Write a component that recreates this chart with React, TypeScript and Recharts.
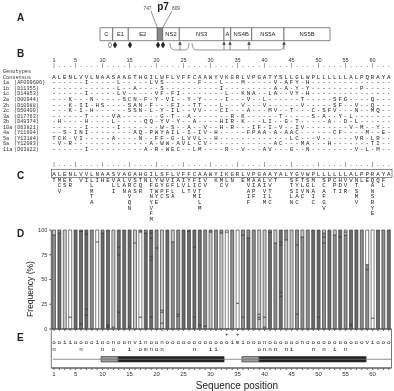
import React from 'react';
import {
  BarChart,
  Bar,
  XAxis,
  YAxis,
  Cell,
  LabelList,
  ComposedChart,
  Scatter,
  ReferenceArea,
  ReferenceLine,
} from 'recharts';

// ---- data ----
const positions = [
  1, 2, 3, 4, 5, 6, 7, 8, 9, 10, 11, 12, 13, 14, 15, 16, 17, 18, 19, 20, 21,
  22, 23, 24, 25, 26, 27, 28, 29, 30, 31, 32, 33, 34, 35, 36, 37, 38, 39, 40,
  41, 42, 43, 44, 45, 46, 47, 48, 49, 50, 51, 52, 53, 54, 55, 56, 57, 58, 59,
  60, 61, 62, 63,
];
const labelledTicks = [1, 5, 10, 15, 20, 25, 30, 35, 40, 45, 50, 55, 60];

// stacked frequency segments per position, bottom to top (shade + %)
const stacks = [
  'M95 L5', 'D97 M3', 'L100', 'W12 W88', 'D100', 'D5 D94 M1', 'D14 D6 D76 D4',
  'M100', 'W88 W12', 'D97 M3', 'D2 D2 D96', 'L2 L98', 'D17 D58 D8 D17', 'D100',
  'M2 D98', 'L87 L13', 'W12 W86 M2', 'D97 M3', 'D12 D58 D3 D19 D5 D3', 'M82 M18',
  'L6 L11 L2 L81', 'D100', 'M88 L12', 'M13 M2 M85', 'D100', 'D99 M1', 'D12 D71 D17',
  'D4 D96', 'M3 M97', 'L98 M2', 'M100', 'L97 M3', 'W98 W2', 'M100', 'W26 W74',
  'M12 M83 M5', 'D92 M8', 'M100', 'L10 L2 L3 L85', 'L2 L10 L88', 'D98 M2', 'M87 L13',
  'D33 D4 D48 D3 D12', 'L90 M10', 'L100', 'M15 M70 M15', 'M93 L7', 'M100', 'D100',
  'D12 D88', 'M87 M6 M4 L3', 'D100', 'M95 L5', 'D93 D7', 'M95 L3 L2', 'D3 D2 D95',
  'D100', 'M100', 'M60 M5 W35', 'W11 W89', 'D100', 'M100', 'D100',
];
const shades: Record<string, string> = { D: '#6b6b6b', M: '#8f8f8f', L: '#c9c9c9', W: '#ffffff' };

// panel A gene map (box widths as drawn)
const geneNames = ['C', 'E1', 'E2', 'p7', 'NS2', 'NS3', 'A', 'NS4B', 'NS5A', 'NS5B'];
const geneWidths = [12.7, 15.6, 29, 5.4, 16.6, 44.7, 6.7, 21, 32.3, 46];
const diamonds = [10, 15, 30, 58, 63];
const arrows = [80, 124, 130, 149, 184];

// panel B alignment
const consensusB = 'ALENLVVLNAASAAGTHGILWFLVFFCAAWYVKGRLVPGATYSLLGLWPLLLLLLALPQRAYA';
const genotypes = ['1a', '1b', '1c', '2a', '2b', '2c', '3a', '3b', '10a', '4a', '5a', '6a', '11a'];
const accessions = ['AF009606', 'D11355', 'D14853', 'D00944', 'D10988', 'D50409', 'D17763', 'D49374', 'D63821', 'Y11604', 'Y13184', 'Y12083', 'D63822'];
const variantsB = [
  '7I 13L 19L 20V 21S 28F 32L 36M 42V 44A 45F 46Y 48H',
  '13L 16A 21S 32I 42A 44A 46Y 48Y 58P',
  '7I 13L 14V 20V 21F 23F 24I 33L 36K 37N 38A 41L 42A 45V 46Y 48H',
  '4K 8N 14S 15C 16N 18F 20Y 22V 23I 26Y 28Y 33I 37V 40L 47T 53S 54F 55G 60Q',
  '4K 6I 7I 9H 10S 15S 16A 17N 19F 23F 24I 27T 28T 32L 36V 40V 47V 53S 54F 57V 60Q',
  '4K 6I 8H 15S 16S 17N 19L 21Y 23I 24L 27V 28V 32C 33I 37A 41M 42V 45T 49C 51S 52F 53V 57N 60M 61Q',
  '7T 12V 13A 21G 23T 26A 34R 36K 43T 49S 51A 54Y 56L',
  '2H 7H 12L 18Q 19Q 21Y 22V 24Y 27A 32H 33I 34R 36K 40L 41I 44G 46T 52A 55D 57L',
  '7I 13I 21W 23S 26A 29V 32H 34R 38I 39F 41I 43V 46I 47V 56V 58M 61Y',
  '3S 5I 6N 7I 16A 17Q 19P 20W 21Y 22A 23I 24L 26I 28I 29V 31H 37F 38P 39A 40A 42A 44A 45A 46C 53C 54F 59M 62E',
  '1T 2C 3K 5V 6I 12A 17N 20F 21F 23G 25L 26V 27V 28L 31H 45L 46C 50V 57V 58R 60L 61R',
  '2V 4R 19A 21W 22W 24A 25V 26L 28C 29V 42A 43C 47M 48A 52H 60T 61I',
  '7I 18A 20R 22W 23E 24C 27L 28M 33R 36V 40A 41V 45G 48N 57V 59L 61M',
];

// panel C variability (consensus + residues found at each column)
const consensusC = 'ALENLVVLNAASVAGAHGILSFLVFFCAAWYIKGRLVPGAAYALYGVWPLLLLLLALPPRAYA';
const columnsC = [
  '1 T', '2 MCV', '3 ES', '4 KR', '6 V', '7 I', '8 LLMTA', '9 I', '10 H', '11 E', '12 VLI',
  '13 AL', '14 LAN', '15 VRAVQN', '16 SCS', '17 TQR', '18 N', '19 LFTNYVFM', '20 YGWYE',
  '21 WYPC', '22 VGFS', '23 IFLA', '24 AL', '25 IVL', '26 YLT', '27 FIVM', '28 ICTILM',
  '29 VV', '31 K', '32 MC', '33 LV', '34 N', '36 E', '37 MVAIF', '38 AIPF', '39 AA',
  '40 LIVIM', '41 VVTLC', '42 T', '45 STSLN', '46 FYIAC', '47 TLVC', '48 SGN', '49 MLAIC',
  '51 SCAFGV', '52 P', '53 CPT', '54 HDI', '55 VVR', '56 V', '57 NTSMV', '58 L', '59 E',
  '60 QANSRYE', '61 Q', '62 FL',
];

// panel E annotation
const propsRow1 = 'ooiiooooioonoonvinoonooooooooooooimiooonoooooonooooooooooovioooo';
const propsRow2 = '1n 6n 10n 12o 15i 17o 18m 19n 20o 21n 27n 30i 31i 39o 40n 41n 42n 44n 45i 49n 51n 53i 55n';
const plusMarks = [33, 35];
const domains = [
  { from: 9.7, to: 12.9, kind: 'grey' },
  { from: 12.9, to: 32.5, kind: 'black' },
  { from: 35.8, to: 39, kind: 'grey' },
  { from: 39, to: 58.8, kind: 'black' },
];

// ---- helpers ----
const SANS = 'Liberation Sans, Arial, sans-serif';
const MONO = 'Liberation Mono, DejaVu Sans Mono, monospace';
const NB = '\u00a0';
const colX = (p: number) => 54 + (p - 1) * 5.4;
const xList = positions.map(colX).join(' ');

const freqData = stacks.map((s, i) => {
  const row: any = { pos: positions[i] };
  s.split(' ').forEach((tok, k) => {
    row['s' + k] = Number(tok.slice(1));
    row['c' + k] = tok[0];
  });
  return row;
});
const maxSeg = Math.max(...stacks.map((s) => s.split(' ').length));

const applyVariants = (spec: string) => {
  const chars = positions.map(() => '-');
  spec.split(' ').forEach((t) => {
    const p = parseInt(t, 10);
    chars[p - 1] = t.replace(/^\d+/, '');
  });
  return chars.join('');
};
const rowsB = variantsB.map(applyVariants);

const colMap: Record<number, string> = {};
columnsC.forEach((c) => {
  const [p, s] = c.split(' ');
  colMap[Number(p)] = s;
});
const depthC = Math.max(...columnsC.map((c) => c.split(' ')[1].length));
const rowsC = Array.from({ length: depthC }, (_, r) =>
  positions.map((p) => (colMap[p] && colMap[p][r]) || NB).join('')
);

const rulerTicks = positions.map((p) => (p === 1 || p % 5 === 0 ? '|' : '.')).join('');

const row1Pts = positions.map((p, i) => ({ x: p, y: 26, ch: propsRow1[i] }));
const row2Pts = propsRow2.split(' ').map((t) => ({ x: parseInt(t, 10), y: 19, ch: t.replace(/^\d+/, '') }));
const plusPts = plusMarks.map((p) => ({ x: p, y: 34, ch: '+' }));

const geneRow: any = { name: 'HCV' };
geneNames.forEach((g, i) => (geneRow[g] = geneWidths[i]));

const letterShape = (props: any) => (
  <text x={props.cx} y={props.cy} textAnchor="middle" dominantBaseline="central" fontSize={6}
    fontFamily={MONO} fill="#222" stroke="none">
    {props.payload.ch}
  </text>
);

const SeqRow = ({ y, text, size = 5.8 }: { y: number; text: string; size?: number }) => (
  <text x={xList} y={y} textAnchor="middle" fontSize={size} fontFamily={MONO} fill="#222">
    {text.replace(/ /g, NB)}
  </text>
);

const aX = (u: number) => 100 + u;
const layer: React.CSSProperties = { position: 'absolute', left: 0, top: 0, willChange: 'transform' };

export default function App() {
  return (
    <div style={{ position: 'absolute', left: 0, top: 0, width: 394, height: 391, background: '#fff' }}>
      {/* A: genome map */}
      <div style={layer}>
        <BarChart layout="vertical" width={394} height={60} data={[geneRow]}
          margin={{ top: 27.7, right: 64, bottom: 19, left: 100 }} barCategoryGap={0}>
          <XAxis type="number" domain={[0, 230]} hide />
          <YAxis type="category" dataKey="name" hide />
          {geneNames.map((g) => (
            <Bar key={g} dataKey={g} stackId="g" fill={g === 'p7' ? '#8a8a8a' : '#fff'}
              stroke="#555" strokeWidth={0.7} isAnimationActive={false}>
              <LabelList dataKey={g} content={(p: any) =>
                g === 'p7' ? null : (
                  <text x={p.x + p.width / 2} y={p.y + p.height / 2 + 2} textAnchor="middle"
                    fontSize={5.8} fontFamily={SANS} fill="#222">{g}</text>
                )} />
            </Bar>
          ))}
        </BarChart>
      </div>

      {/* D: frequency bars */}
      <div style={layer}>
        <BarChart width={394} height={340} data={freqData}
          margin={{ top: 230, right: 2.5, bottom: 5, left: 41.3 }} barCategoryGap="22%">
          <XAxis dataKey="pos" interval={0} tickFormatter={() => ''} tickSize={2} height={6}
            axisLine={{ stroke: '#555' }} tickLine={{ stroke: '#666' }} />
          <YAxis domain={[0, 100]} ticks={[0, 25, 50, 75, 100]} interval={0} width={10} tickSize={2}
            tick={{ fontSize: 5.5, fill: '#333', fontFamily: SANS }} axisLine={{ stroke: '#555' }}
            tickLine={{ stroke: '#555' }} />
          {Array.from({ length: maxSeg }, (_, k) => (
            <Bar key={k} dataKey={'s' + k} stackId="f" stroke="#2a2a2a" strokeWidth={0.6} isAnimationActive={false}>
              {freqData.map((d, i) => (
                <Cell key={i} fill={shades[d['c' + k]] || '#fff'} />
              ))}
            </Bar>
          ))}
        </BarChart>
      </div>

      {/* E: physico-chemical annotation + domains */}
      <div style={layer}>
        <ComposedChart width={394} height={391} margin={{ top: 329, right: 2.5, bottom: 11, left: 51.3 }}>
          <XAxis type="number" dataKey="x" domain={[0.5, 63.5]} ticks={positions} interval={0}
            tickFormatter={(v: number) => (labelledTicks.includes(v) ? String(v) : '')}
            tickSize={2} height={12} tick={{ fontSize: 6, fill: '#333', fontFamily: SANS }}
            axisLine={{ stroke: '#555' }} tickLine={{ stroke: '#666' }} allowDataOverflow />
          <YAxis type="number" dataKey="y" domain={[0, 39]} hide />
          <ReferenceArea x1={0.5} x2={63.5} y1={0} y2={39} fill="none" stroke="#555" strokeWidth={0.8} ifOverflow="visible" />
          <ReferenceLine segment={[{ x: 0.8, y: 8.75 }, { x: 63.5, y: 8.75 }]} stroke="#777" strokeWidth={0.8} />
          {domains.map((d, i) => (
            <ReferenceArea key={i} x1={d.from} x2={d.to} y1={6} y2={11.5}
              fill={d.kind === 'grey' ? '#9a9a9a' : '#222'} fillOpacity={1} stroke="#333" strokeWidth={0.6} />
          ))}
          <Scatter data={row1Pts} fill="#222" shape={letterShape} isAnimationActive={false} />
          <Scatter data={row2Pts} fill="#222" shape={letterShape} isAnimationActive={false} />
          <Scatter data={plusPts} fill="#222" shape={letterShape} isAnimationActive={false} />
        </ComposedChart>
      </div>

      {/* text panels */}
      <svg width={394} height={391} style={{ ...layer, pointerEvents: 'none' }}>
        <g fontFamily={SANS} fontWeight="bold" fontSize={10} fill="#222">
          <text x={17} y={21}>A</text>
          <text x={17} y={57}>B</text>
          <text x={17} y={179}>C</text>
          <text x={17} y={237}>D</text>
          <text x={17} y={341}>E</text>
        </g>

        {/* A annotations */}
        <text x={163} y={10} textAnchor="middle" fontFamily={SANS} fontWeight="bold" fontSize={10} fill="#222">p7</text>
        <text x={147.5} y={9.5} textAnchor="middle" fontFamily={SANS} fontSize={4.8} fill="#444">747</text>
        <text x={176} y={9.5} textAnchor="middle" fontFamily={SANS} fontSize={4.8} fill="#444">809</text>
        <line x1={151} y1={11} x2={157.3} y2={27.7} stroke="#444" strokeWidth={0.6} />
        <line x1={172} y1={11} x2={162.7} y2={27.7} stroke="#444" strokeWidth={0.6} />
        {diamonds.map((u, i) => (
          <path key={i} d={`M${aX(u)},42 L${aX(u) + 1.8},45 L${aX(u)},48 L${aX(u) - 1.8},45 Z`}
            fill={i === 0 ? '#fff' : '#222'} stroke="#222" strokeWidth={0.5} />
        ))}
        <path d={`M${aX(70)},43 Q${aX(70)},50 ${aX(75)},50 L${aX(85)},50 Q${aX(89)},50 ${aX(89)},43`} fill="none" stroke="#555" strokeWidth={0.6} />
        <path d={`M${aX(92)},43 Q${aX(92)},50 ${aX(97)},50 L${aX(179)},50 Q${aX(184)},50 ${aX(184)},43`} fill="none" stroke="#555" strokeWidth={0.6} />
        {arrows.map((u, i) => (
          <g key={i} stroke="#444" strokeWidth={0.6} fill="#444">
            <line x1={aX(u)} y1={50} x2={aX(u)} y2={43} />
            <path d={`M${aX(u) - 1.3},44.5 L${aX(u)},41.8 L${aX(u) + 1.3},44.5 Z`} />
          </g>
        ))}

        {/* B alignment */}
        {labelledTicks.map((t) => (
          <text key={t} x={colX(t)} y={62} textAnchor="middle" fontFamily={SANS} fontSize={5.5} fill="#333">{t}</text>
        ))}
        <SeqRow y={67} text={rulerTicks} size={5} />
        <g fontFamily={MONO} fontSize={5.2} fill="#333">
          <text x={3} y={73}>Genotypes</text>
          <text x={3} y={78.5}>Consensus</text>
          {genotypes.map((g, i) => (
            <g key={g}>
              <text x={3} y={84.3 + i * 5.55}>{g}</text>
              <text x={14} y={84.3 + i * 5.55}>({accessions[i]})</text>
            </g>
          ))}
        </g>
        <SeqRow y={78.5} text={consensusB} />
        {rowsB.map((r, i) => (
          <SeqRow key={i} y={84.3 + i * 5.55} text={r} />
        ))}

        {/* C variability */}
        <SeqRow y={166} text={rulerTicks} size={5} />
        <rect x={51.5} y={169.5} width={340.5} height={8} fill="none" stroke="#444" strokeWidth={0.6} />
        <SeqRow y={175.8} text={consensusC} />
        {rowsC.map((r, i) => (
          <SeqRow key={i} y={181.5 + i * 5.6} text={r} />
        ))}

        {/* axis titles */}
        <text transform="translate(33,289) rotate(-90)" textAnchor="middle" fontFamily={SANS} fontSize={8.5} fill="#222">Frequency (%)</text>
        <text x={237} y={389} textAnchor="middle" fontFamily={SANS} fontSize={10} fill="#222">Sequence position</text>
      </svg>
    </div>
  );
}
